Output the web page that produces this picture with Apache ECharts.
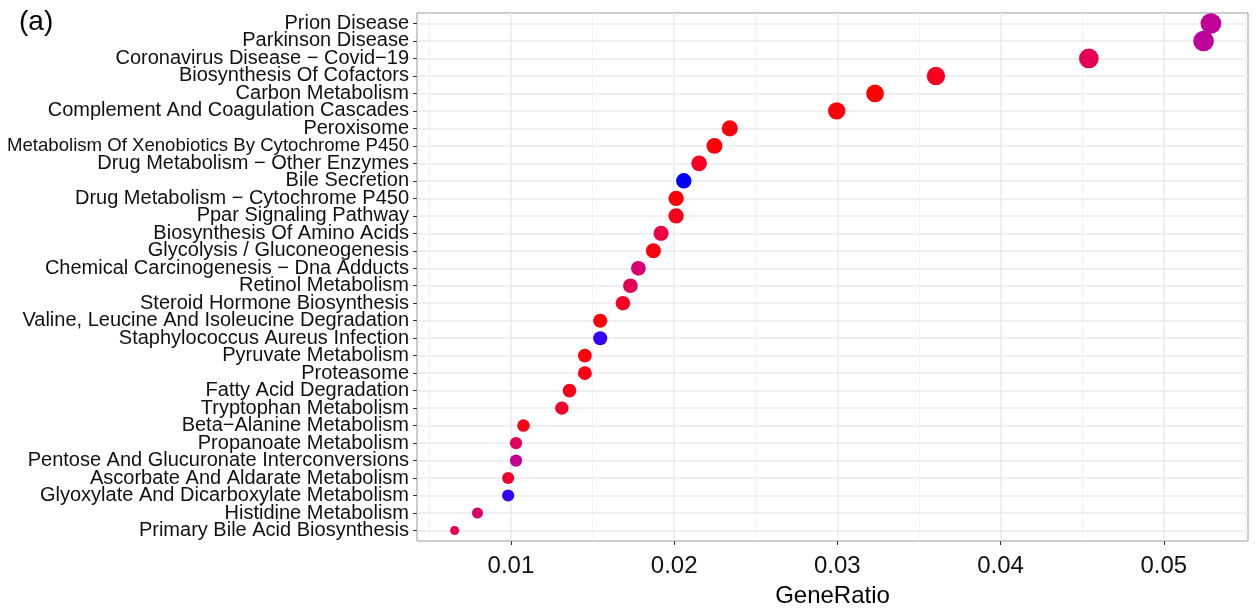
<!DOCTYPE html>
<html>
<head>
<meta charset="utf-8">
<script src="https://cdn.jsdelivr.net/npm/echarts@6/dist/echarts.min.js"></script>
<style>
html,body{margin:0;padding:0;background:#fff;}
#c{width:1259px;height:611px;}
</style>
</head>
<body>
<div id="c"></div>
<script>
// Categories, top to bottom
const categories = [
  "Prion Disease",
  "Parkinson Disease",
  "Coronavirus Disease \u2212 Covid\u221219",
  "Biosynthesis Of Cofactors",
  "Carbon Metabolism",
  "Complement And Coagulation Cascades",
  "Peroxisome",
  "Metabolism Of Xenobiotics By Cytochrome P450",
  "Drug Metabolism \u2212 Other Enzymes",
  "Bile Secretion",
  "Drug Metabolism \u2212 Cytochrome P450",
  "Ppar Signaling Pathway",
  "Biosynthesis Of Amino Acids",
  "Glycolysis / Gluconeogenesis",
  "Chemical Carcinogenesis \u2212 Dna Adducts",
  "Retinol Metabolism",
  "Steroid Hormone Biosynthesis",
  "Valine, Leucine And Isoleucine Degradation",
  "Staphylococcus Aureus Infection",
  "Pyruvate Metabolism",
  "Proteasome",
  "Fatty Acid Degradation",
  "Tryptophan Metabolism",
  "Beta\u2212Alanine Metabolism",
  "Propanoate Metabolism",
  "Pentose And Glucuronate Interconversions",
  "Ascorbate And Aldarate Metabolism",
  "Glyoxylate And Dicarboxylate Metabolism",
  "Histidine Metabolism",
  "Primary Bile Acid Biosynthesis"
];
const geneRatio = [0.05289, 0.05244, 0.04541, 0.03604, 0.03231, 0.02996, 0.02341, 0.02247, 0.02153, 0.02059,
                   0.02012, 0.02012, 0.01920, 0.01873, 0.01781, 0.01732, 0.01686, 0.01547, 0.01547, 0.01453,
                   0.01453, 0.01359, 0.01312, 0.01077, 0.01031, 0.01031, 0.00983, 0.00983, 0.00795, 0.00655];
const counts = [113, 112, 97, 77, 69, 64, 50, 48, 46, 44, 43, 43, 41, 40, 38, 37, 36, 33, 33, 31,
                31, 29, 28, 23, 22, 22, 21, 21, 17, 14];
// relative adjusted p-value (0 = lowest / red, 1 = highest / blue)
const pAdjRel = [0.50, 0.51, 0.25, 0.08, 0.0, 0.02, 0.03, 0.02, 0.08, 1.0,
                 0.01, 0.06, 0.18, 0.03, 0.35, 0.24, 0.08, 0.02, 0.93, 0.03,
                 0.04, 0.06, 0.10, 0.05, 0.27, 0.48, 0.10, 0.93, 0.33, 0.25];
const xTicks = [0.01, 0.02, 0.03, 0.04, 0.05];
const xMinorTicks = [0.005, 0.015, 0.025, 0.035, 0.045, 0.055];

const FONT = "'Liberation Sans', Arial, Helvetica, sans-serif";
const data = categories.map((c, i) => [geneRatio[i], i, counts[i], pAdjRel[i]]);
const yIdx = categories.map((c, i) => i);
const yEven = yIdx.filter(i => i % 2 === 0);
const yOdd = yIdx.filter(i => i % 2 === 1);
const cMin = Math.min(...counts), cMax = Math.max(...counts);
const dMin = 9, dMax = 20.7;

function yLabel(values) {
  return {
    customValues: values, fontSize: 20, fontFamily: FONT, color: '#111', margin: 8,
    showMinLabel: true, showMaxLabel: true,
    formatter: v => {
      const n = categories[Math.round(v)];
      return n.length > 42 ? '{s|' + n + '}' : n;
    },
    rich: {s: {fontSize: 18.6, fontFamily: FONT, color: '#111'}}
  };
}

const chart = echarts.init(document.getElementById('c'), null, {renderer: 'canvas'});
chart.setOption({
  backgroundColor: '#fff',
  animation: false,
  graphic: [{
    type: 'text', left: 19, top: 8,
    style: {text: '(a)', font: '28px ' + FONT, fill: '#000'}
  }],
  grid: {left: 417, right: 11, top: 13, bottom: 70, containLabel: false, outerBoundsMode: 'none',
         show: true, borderColor: '#9a9a9a', borderWidth: 1, backgroundColor: 'transparent'},
  xAxis: [{
    type: 'value', min: 0.004244, max: 0.055162, position: 'bottom',
    name: 'GeneRatio', nameLocation: 'middle', nameGap: 43,
    nameTextStyle: {fontSize: 24, fontFamily: FONT, color: '#000'},
    axisLine: {show: false, onZero: false},
    axisTick: {show: true, length: 4, lineStyle: {color: '#333'}, customValues: xTicks},
    axisLabel: {customValues: xTicks, fontSize: 24, fontFamily: FONT, color: '#111', margin: 13,
                formatter: v => v.toFixed(2)},
    splitLine: {show: true, lineStyle: {color: '#ebebeb', width: 1.5}}
  }, {
    type: 'value', min: 0.004244, max: 0.055162, position: 'top',
    axisLine: {show: false, onZero: false}, axisLabel: {show: false},
    axisTick: {show: false, customValues: xMinorTicks},
    splitLine: {show: true, lineStyle: {color: '#f3f3f3', width: 1}}
  }],
  yAxis: [{
    type: 'value', min: -0.6, max: 29.6, inverse: true, position: 'left', offset: 0,
    axisLine: {show: false, onZero: false},
    axisTick: {show: true, length: 4, lineStyle: {color: '#333'}, customValues: yIdx},
    axisLabel: yLabel(yEven),
    splitLine: {show: true, lineStyle: {color: '#ebebeb', width: 1.5}}
  }, {
    type: 'value', min: -0.6, max: 29.6, inverse: true, position: 'left', offset: 0,
    axisLine: {show: false, onZero: false},
    axisTick: {show: false, customValues: yOdd},
    axisLabel: yLabel(yOdd),
    splitLine: {show: false}
  }],
  visualMap: {
    show: false, type: 'continuous', dimension: 3, min: 0, max: 1, seriesIndex: 0,
    inRange: {color: ['#FF0000', '#F40031', '#E8004F', '#DA006C', '#CA0089', '#B500A5', '#9A00C2', '#7300E0', '#5400F0', '#0000FF']}
  },
  series: [{
    type: 'scatter', xAxisIndex: 0, yAxisIndex: 0,
    data: data,
    symbolSize: d => dMin + Math.sqrt((d[2] - cMin) / (cMax - cMin)) * (dMax - dMin),
    itemStyle: {opacity: 1}
  }]
});
</script>
</body>
</html>
